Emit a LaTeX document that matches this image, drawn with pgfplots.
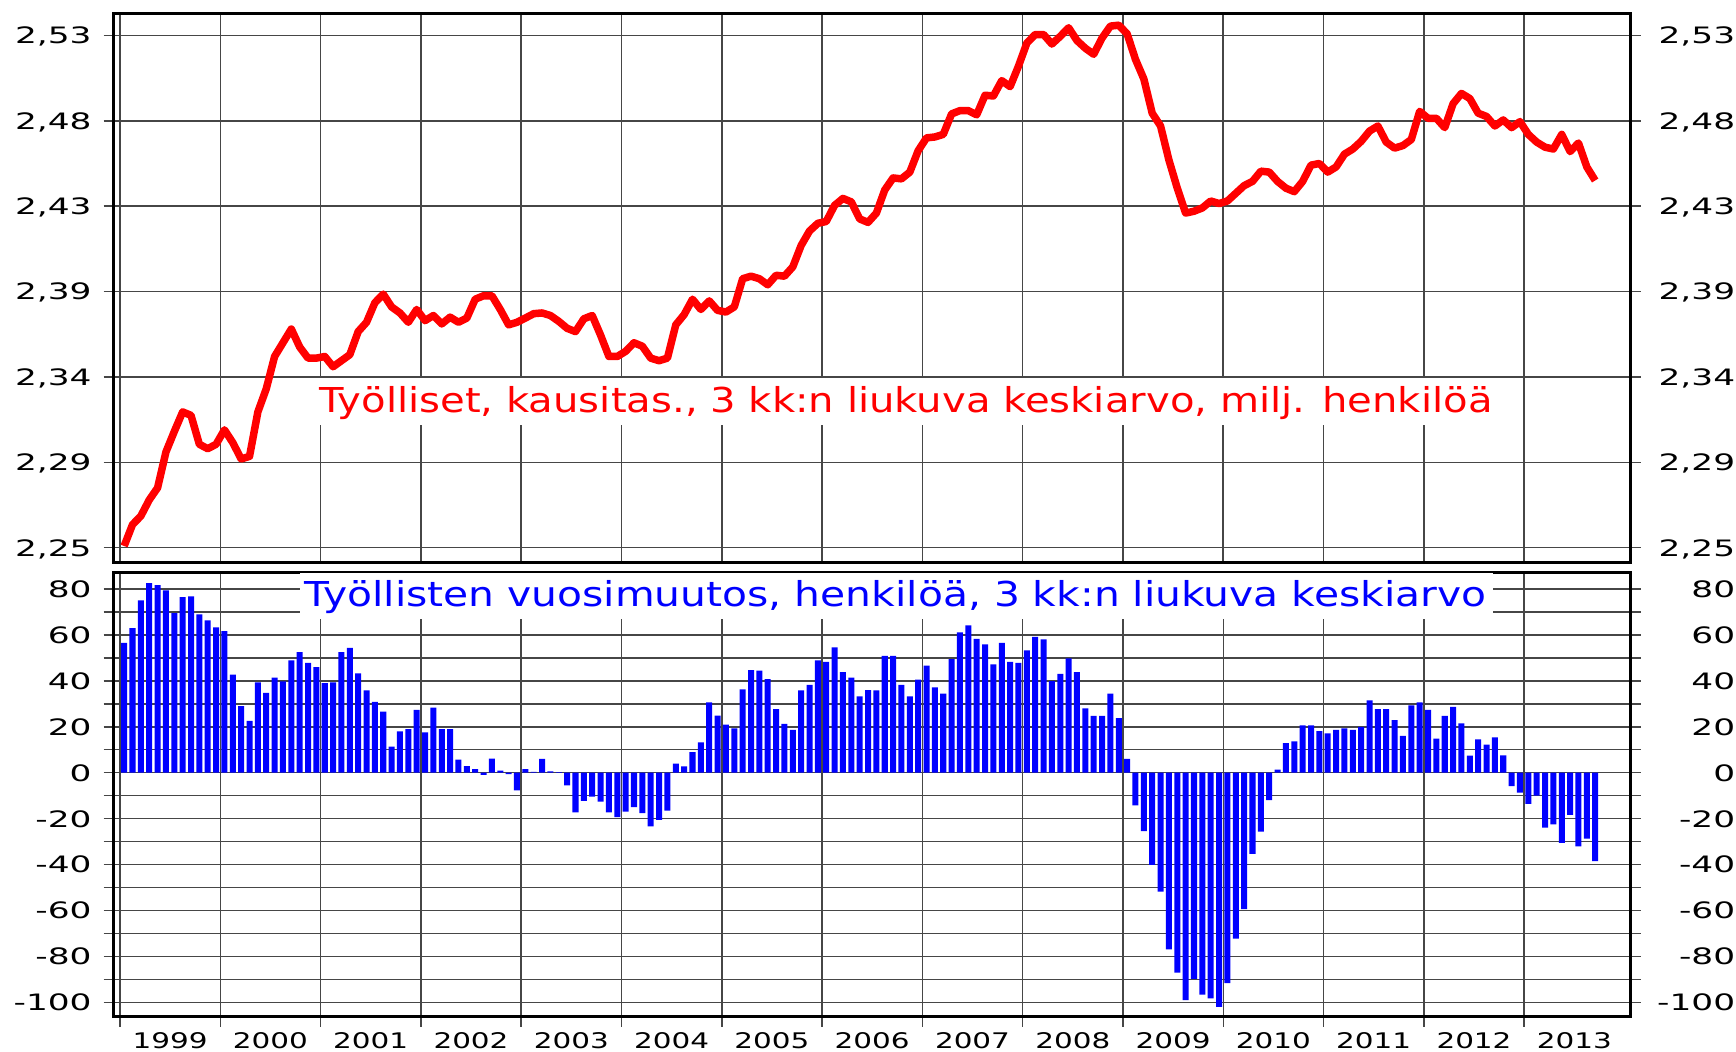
\documentclass[border=0pt]{standalone}
\usepackage{fontspec}
\setmainfont{DejaVu Sans}
\newfontfamily\tickfont[FakeStretch=1.52]{DejaVu Sans}
\newfontfamily\yearfont[FakeStretch=1.37]{DejaVu Sans}
\newfontfamily\titlefont[FakeStretch=1.17]{DejaVu Sans}
\newfontfamily\titlefontb[FakeStretch=1.19]{DejaVu Sans}
\usepackage{pgfplots}
\pgfplotsset{compat=1.18}
\definecolor{gridgray}{RGB}{70,70,70}
\pgfplotsset{
  common/.style={
    anchor=south west, scale only axis, width=758.5pt,
    xmin=-0.75, xmax=180.75,
    tick align=outside, major tick length=5pt, minor tick length=5pt,
    grid style={gridgray, line width=0.75pt},
    minor grid style={gridgray, line width=0.75pt},
    major tick style={gridgray, line width=0.75pt},
    minor tick style={gridgray, line width=0.75pt},
    axis line style={line width=1.75pt},
    yticklabel style={font=\tickfont\fontsize{11.3}{11.3}\selectfont, anchor=east, inner sep=0pt, xshift=-5.85pt, text depth=0pt},
  },
  rightlab/.style={
    anchor=south west, scale only axis, width=758.5pt,
    xmin=-0.75, xmax=180.75,
    axis x line=none, axis y line*=right, y axis line style={draw=none},
    major tick length=0pt,
    yticklabel style={font=\tickfont\fontsize{11.3}{11.3}\selectfont, anchor=east, inner sep=0pt, xshift=52.4pt, text depth=0pt},
  }
}
\begin{document}
\begin{tikzpicture}
% ---------------- top panel ----------------
\begin{axis}[common, at={(56.85pt,244.35pt)}, height=274.5pt,
  ymin=2.2395, ymax=2.5396,
  xtick={0,12,...,168}, xticklabels={}, xmajorticks=false, xmajorgrids,
  ytick={2.2475,2.294167,2.340833,2.3875,2.434167,2.480833,2.5275},
  yticklabels={{2,25},{2,29},{2,34},{2,39},{2,43},{2,48},{2,53}},
  ymajorgrids]
\addplot[red, line width=3.75pt, line join=round] table {
0.5 2.2484
1.5 2.2601
2.5 2.2648
3.5 2.2736
4.5 2.2802
5.5 2.2998
6.5 2.3110
7.5 2.3217
8.5 2.3198
9.5 2.3040
10.5 2.3016
11.5 2.3040
12.5 2.3119
13.5 2.3049
14.5 2.2960
15.5 2.2974
16.5 2.3217
17.5 2.3343
18.5 2.3520
19.5 2.3595
20.5 2.3670
21.5 2.3572
22.5 2.3511
23.5 2.3511
24.5 2.3520
25.5 2.3464
26.5 2.3497
27.5 2.3530
28.5 2.3656
29.5 2.3707
30.5 2.3814
31.5 2.3861
32.5 2.3791
33.5 2.3758
34.5 2.3707
35.5 2.3777
36.5 2.3716
37.5 2.3744
38.5 2.3698
39.5 2.3735
40.5 2.3707
41.5 2.3730
42.5 2.3833
43.5 2.3852
44.5 2.3852
45.5 2.3777
46.5 2.3693
47.5 2.3707
48.5 2.3730
49.5 2.3754
50.5 2.3758
51.5 2.3744
52.5 2.3712
53.5 2.3674
54.5 2.3656
55.5 2.3726
56.5 2.3744
57.5 2.3637
58.5 2.3520
59.5 2.3520
60.5 2.3548
61.5 2.3595
62.5 2.3576
63.5 2.3511
64.5 2.3497
65.5 2.3511
66.5 2.3693
67.5 2.3749
68.5 2.3833
69.5 2.3777
70.5 2.3824
71.5 2.3772
72.5 2.3763
73.5 2.3791
74.5 2.3945
75.5 2.3959
76.5 2.3945
77.5 2.3912
78.5 2.3964
79.5 2.3959
80.5 2.4010
81.5 2.4127
82.5 2.4206
83.5 2.4248
84.5 2.4258
85.5 2.4346
86.5 2.4384
87.5 2.4365
88.5 2.4272
89.5 2.4253
90.5 2.4304
91.5 2.4430
92.5 2.4496
93.5 2.4491
94.5 2.4528
95.5 2.4645
96.5 2.4715
97.5 2.4720
98.5 2.4734
99.5 2.4846
100.5 2.4864
101.5 2.4864
102.5 2.4841
103.5 2.4948
104.5 2.4944
105.5 2.5028
106.5 2.4995
107.5 2.5107
108.5 2.5233
109.5 2.5280
110.5 2.5280
111.5 2.5228
112.5 2.5270
113.5 2.5317
114.5 2.5247
115.5 2.5205
116.5 2.5172
117.5 2.5261
118.5 2.5326
119.5 2.5331
120.5 2.5284
121.5 2.5144
122.5 2.5037
123.5 2.4850
124.5 2.4780
125.5 2.4594
126.5 2.4440
127.5 2.4304
128.5 2.4314
129.5 2.4332
130.5 2.4370
131.5 2.4356
132.5 2.4370
133.5 2.4412
134.5 2.4454
135.5 2.4477
136.5 2.4533
137.5 2.4528
138.5 2.4477
139.5 2.4440
140.5 2.4421
141.5 2.4477
142.5 2.4566
143.5 2.4575
144.5 2.4528
145.5 2.4556
146.5 2.4626
147.5 2.4654
148.5 2.4696
149.5 2.4752
150.5 2.4780
151.5 2.4692
152.5 2.4659
153.5 2.4673
154.5 2.4706
155.5 2.4860
156.5 2.4822
157.5 2.4822
158.5 2.4771
159.5 2.4902
160.5 2.4958
161.5 2.4930
162.5 2.4850
163.5 2.4832
164.5 2.4780
165.5 2.4813
166.5 2.4771
167.5 2.4804
168.5 2.4734
169.5 2.4692
170.5 2.4664
171.5 2.4654
172.5 2.4734
173.5 2.4640
174.5 2.4687
175.5 2.4556
176.5 2.4482
};
\end{axis}
\begin{axis}[rightlab, at={(56.85pt,244.35pt)}, height=274.5pt,
  ymin=2.2395, ymax=2.5396,
  ytick={2.2475,2.294167,2.340833,2.3875,2.434167,2.480833,2.5275},
  yticklabels={{2,25},{2,29},{2,34},{2,39},{2,43},{2,48},{2,53}}]
\end{axis}
% ---------------- bottom panel ----------------
\begin{axis}[common, at={(56.85pt,17.15pt)}, height=222pt,
  ymin=-106.27, ymax=87.1,
  xtick={0,12,...,168}, xticklabels={}, xtick pos=left, xmajorgrids,
  extra x ticks={6,18,30,42,54,66,78,90,102,114,126,138,150,162,174},
  extra x tick labels={1999,2000,2001,2002,2003,2004,2005,2006,2007,2008,2009,2010,2011,2012,2013},
  extra x tick style={major tick length=0pt, grid=none},
  xticklabel style={font=\yearfont\fontsize{10.75}{10.75}\selectfont, anchor=north, inner sep=0pt, yshift=-7.5pt},
  ytick={-100,-80,-60,-40,-20,0,20,40,60,80},
  yticklabels={-100,-80,-60,-40,-20,0,20,40,60,80},
  minor ytick={-90,-70,-50,-30,-10,10,30,50,70},
  ymajorgrids, yminorgrids]
\addplot[ybar, bar width=0.72, bar shift=0, fill=blue, draw=none] coordinates {
(0.5,56.5)(1.5,63)(2.5,75)(3.5,82.6)(4.5,81.7)(5.5,79.4)(6.5,69.5)(7.5,76.5)(8.5,76.8)(9.5,68.9)(10.5,66.3)(11.5,63.3)
(12.5,61.7)(13.5,42.7)(14.5,29)(15.5,22.6)(16.5,39.3)(17.5,34.8)(18.5,41.4)(19.5,39.8)(20.5,48.9)(21.5,52.5)(22.5,47.8)(23.5,46)
(24.5,39)(25.5,39.3)(26.5,52.5)(27.5,54.4)(28.5,43.3)(29.5,35.8)(30.5,30.8)(31.5,26.6)(32.5,11.3)(33.5,18)(34.5,19)(35.5,27.4)
(36.5,17.6)(37.5,28.3)(38.5,19)(39.5,19)(40.5,5.7)(41.5,2.9)(42.5,1.5)(43.5,-1)(44.5,6.1)(45.5,0.9)(46.5,-0.6)(47.5,-7.7)
(48.5,1.5)(49.5,0.4)(50.5,6)(51.5,0.6)(52.5,0.2)(53.5,-5.5)(54.5,-17.3)(55.5,-12.3)(56.5,-10.4)(57.5,-12.6)(58.5,-17.3)(59.5,-19.3)
(60.5,-17)(61.5,-15)(62.5,-17.6)(63.5,-23.4)(64.5,-20.5)(65.5,-16.5)(66.5,3.9)(67.5,2.8)(68.5,9)(69.5,13.2)(70.5,30.6)(71.5,24.8)
(72.5,20.9)(73.5,19.3)(74.5,36.3)(75.5,44.7)(76.5,44.4)(77.5,40.8)(78.5,27.7)(79.5,21.3)(80.5,18.7)(81.5,35.8)(82.5,38.3)(83.5,48.9)
(84.5,48.3)(85.5,54.6)(86.5,43.8)(87.5,41.4)(88.5,33.2)(89.5,36)(90.5,35.8)(91.5,50.9)(92.5,50.9)(93.5,38.3)(94.5,33.2)(95.5,40.5)
(96.5,46.6)(97.5,37.2)(98.5,34.4)(99.5,49.5)(100.5,61.1)(101.5,64.2)(102.5,58.3)(103.5,55.9)(104.5,47.2)(105.5,56.5)(106.5,48.3)(107.5,47.8)
(108.5,53.3)(109.5,59.1)(110.5,58.1)(111.5,39.9)(112.5,43)(113.5,49.8)(114.5,43.8)(115.5,28)(116.5,24.7)(117.5,24.7)(118.5,34.4)(119.5,23.8)
(120.5,6)(121.5,-14.2)(122.5,-25.5)(123.5,-40.2)(124.5,-51.8)(125.5,-77)(126.5,-87.1)(127.5,-99.1)(128.5,-89.8)(129.5,-96.7)(130.5,-98.3)(131.5,-102)
(132.5,-91.6)(133.5,-72.3)(134.5,-59.4)(135.5,-35.4)(136.5,-25.7)(137.5,-12)(138.5,1.3)(139.5,12.9)(140.5,13.6)(141.5,20.6)(142.5,20.6)(143.5,18.1)
(144.5,17.1)(145.5,18.7)(146.5,19.3)(147.5,18.7)(148.5,20)(149.5,31.5)(150.5,27.7)(151.5,27.7)(152.5,22.9)(153.5,16)(154.5,29.3)(155.5,30.6)
(156.5,27.4)(157.5,14.8)(158.5,24.7)(159.5,28.7)(160.5,21.5)(161.5,7.4)(162.5,14.5)(163.5,12.2)(164.5,15.4)(165.5,7.5)(166.5,-5.8)(167.5,-8.7)
(168.5,-13.6)(169.5,-10)(170.5,-23.9)(171.5,-22.5)(172.5,-30.6)(173.5,-18.4)(174.5,-32.1)(175.5,-28.7)(176.5,-38.5)
};
\end{axis}
\begin{axis}[rightlab, at={(56.85pt,17.15pt)}, height=222pt,
  ymin=-106.27, ymax=87.1,
  ytick={-100,-80,-60,-40,-20,0,20,40,60,80},
  yticklabels={-100,-80,-60,-40,-20,0,20,40,60,80}]
\end{axis}
% ---------------- title boxes ----------------
\fill[white] (156.5pt,313pt) rectangle (750pt,336.35pt);
\node[anchor=base, inner sep=0pt, text=red, font=\titlefont\fontsize{17.15}{17.15}\selectfont] at (453pt,319pt) {Työlliset, kausitas., 3 kk:n liukuva keskiarvo, milj. henkilöä};
\fill[white] (150pt,216pt) rectangle (746.5pt,238.9pt);
\node[anchor=base, inner sep=0pt, text=blue, font=\titlefontb\fontsize{17.15}{17.15}\selectfont] at (447.7pt,222.15pt) {Työllisten vuosimuutos, henkilöä, 3 kk:n liukuva keskiarvo};
\pgfresetboundingbox
\path (0pt,0pt) rectangle (868pt,525.5pt);
\end{tikzpicture}
\end{document}
